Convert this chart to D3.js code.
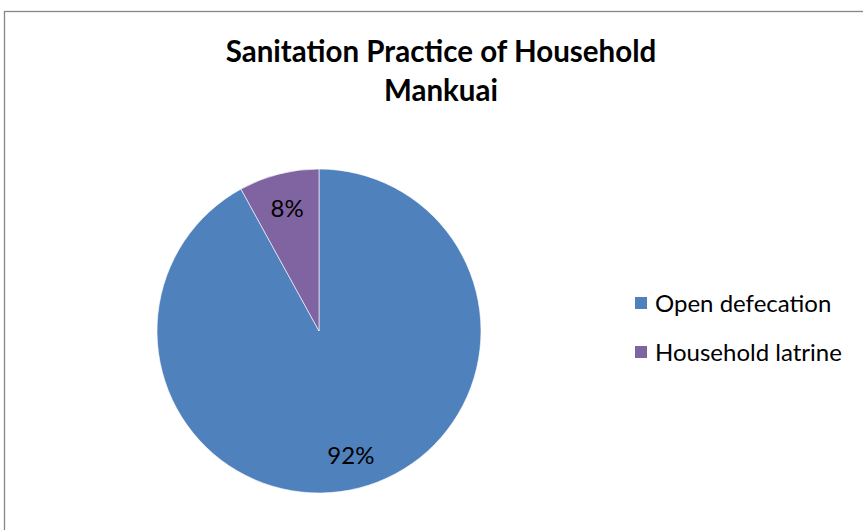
<!DOCTYPE html>
<html>
<head>
<meta charset="utf-8">
<script src="https://cdn.jsdelivr.net/npm/d3@7"></script>
<style>
  html, body { margin: 0; padding: 0; background: #fff; }
  svg { display: block; font-family: Lato, "Open Sans", sans-serif; }
</style>
</head>
<body>
<svg id="chart" width="863" height="530"></svg>
<script>
// Sanitation practice shares (percent)
const categories = ["Open defecation", "Household latrine"];
const values = [92, 8];
const colors = ["#4F81BD", "#8064A2"];
const titleLines = ["Sanitation Practice of Household", "Mankuai"];

const svg = d3.select("#chart");

// chart area frame
svg.append("rect")
  .attr("x", 4.5).attr("y", 11.5)
  .attr("width", 900).attr("height", 600)
  .attr("fill", "#fff")
  .attr("stroke", "#868686").attr("stroke-width", 1.3);

// title
svg.append("g").selectAll("text")
  .data(titleLines)
  .join("text")
  .attr("x", 441)
  .attr("y", (d, i) => 62 + i * 39)
  .attr("text-anchor", "middle")
  .attr("font-weight", "bold")
  .attr("font-size", 29.5)
  .attr("fill", "#000")
  .text(d => d);

// pie
const cx = 319, cy = 331, r = 162;
const color = d3.scaleOrdinal().domain(categories).range(colors);
const pie = d3.pie().sort(null).value(d => d.value);
const data = categories.map((c, i) => ({ name: c, value: values[i] }));
const arcs = pie(data);
const arc = d3.arc().innerRadius(0).outerRadius(r);
const labelArc = d3.arc().innerRadius(r * 0.79).outerRadius(r * 0.79);

const g = svg.append("g").attr("transform", `translate(${cx},${cy})`);
g.selectAll("path")
  .data(arcs)
  .join("path")
  .attr("d", arc)
  .attr("fill", d => color(d.data.name))
  .attr("stroke", "#fff")
  .attr("stroke-width", 0.6);

g.selectAll("text")
  .data(arcs)
  .join("text")
  .attr("transform", d => `translate(${labelArc.centroid(d)})`)
  .attr("text-anchor", "middle")
  .attr("dominant-baseline", "central")
  .attr("font-size", 24)
  .attr("fill", "#000")
  .text(d => d.data.value + "%");

// legend
const legend = svg.append("g").attr("transform", "translate(635,302)");
const item = legend.selectAll("g")
  .data(categories)
  .join("g")
  .attr("transform", (d, i) => `translate(0,${i * 49})`);
item.append("rect")
  .attr("x", 0).attr("y", -5)
  .attr("width", 12).attr("height", 12)
  .attr("fill", d => color(d));
item.append("text")
  .attr("x", 20).attr("y", 0)
  .attr("dominant-baseline", "central")
  .attr("font-size", 24)
  .attr("fill", "#000")
  .text(d => d);
</script>
</body>
</html>
